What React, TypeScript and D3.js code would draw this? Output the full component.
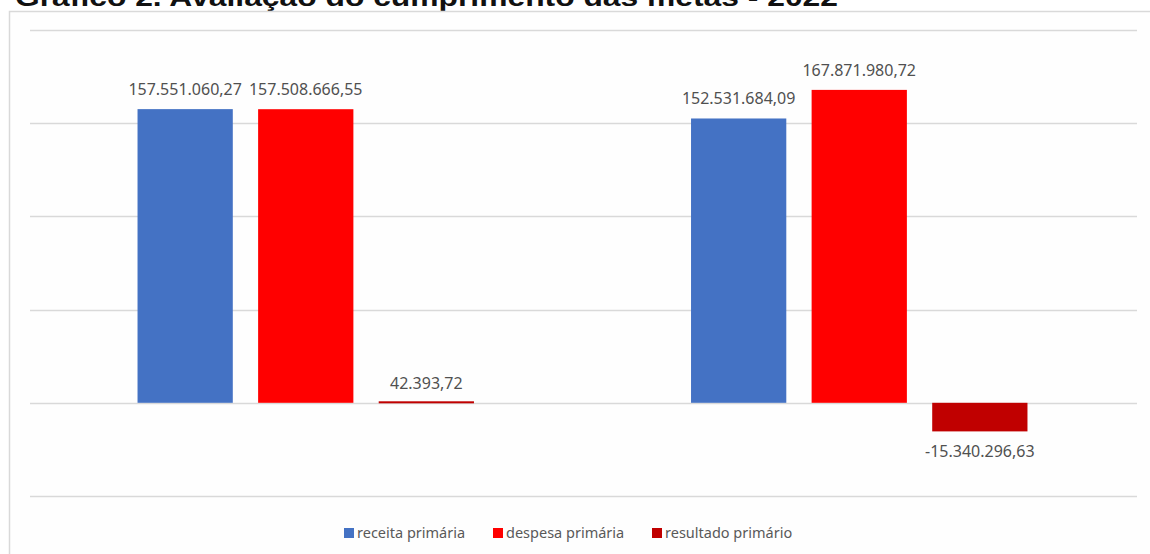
import React from "react";
import * as d3 from "d3";

const categories = ["2022-a", "2022-b"];
const seriesNames = ["receita primária", "despesa primária", "resultado primário"];
const seriesColors = ["#4472C4", "#FF0000", "#C00000"];
const receita = [157551060.27, 152531684.09];
const despesa = [157508666.55, 167871980.72];
const resultado = [42393.72, -15340296.63];
const valueLabels = [
  ["157.551.060,27", "157.508.666,55", "42.393,72"],
  ["152.531.684,09", "167.871.980,72", "-15.340.296,63"],
];
const gridTicks = [-50e6, 0, 50e6, 100e6, 150e6, 200e6];
const title = "Gráfico 2. Avaliação do cumprimento das metas - 2022";

export default function App() {
  const W = 1150, H = 554;
  const left = 30, right = 1137, top = 30, bottom = 496;
  const y = d3.scaleLinear().domain([-50e6, 200e6]).range([bottom, top]);
  const x0 = d3.scaleBand().domain(categories).range([left, right]).paddingInner(0).paddingOuter(0);
  const x1 = d3.scaleBand().domain(seriesNames).range([0, x0.bandwidth()]).paddingInner(0.21).paddingOuter(0.9);
  const series = [receita, despesa, resultado];
  const labelFont = "'Noto Sans', 'Open Sans', sans-serif";

  const legendX = [344, 493, 652];

  return (
    <svg width={W} height={H} style={{ position: "absolute", left: 0, top: 0, background: "#fff" }}>
      <text x={15} y={6} fontFamily="'Liberation Sans', Arial, sans-serif" fontWeight="bold" fontSize={25} fill="#111" textLength={823} lengthAdjust="spacingAndGlyphs">{title}</text>
      <rect x={9.5} y={11.5} width={1200} height={600} fill="#fefefe" stroke="#d9d9d9" strokeWidth={1.5} />
      {gridTicks.map((t) => (
        <line key={t} x1={left} x2={right} y1={Math.round(y(t)) + 0.5} y2={Math.round(y(t)) + 0.5} stroke="#d9d9d9" strokeWidth={1.5} />
      ))}
      {categories.map((c, ci) => (
        <g key={c} transform={`translate(${x0(c)},0)`}>
          {series.map((s, si) => {
            const v = s[ci];
            const bx = x1(seriesNames[si])! - 1;
            const bw = x1.bandwidth();
            let y0 = Math.min(y(0), y(v));
            let h = Math.abs(y(v) - y(0));
            if (h < 2) { h = 2; y0 = y(0) - 1.5; }
            const labelY = v >= 0 ? y(v) - 14 : y(v) + 26;
            return (
              <g key={si}>
                <rect x={bx} y={y0} width={bw} height={h} fill={seriesColors[si]} />
                <text x={bx + bw / 2} y={labelY} textAnchor="middle" fontFamily={labelFont} fontSize={16} fill="#505050">{valueLabels[ci][si]}</text>
              </g>
            );
          })}
        </g>
      ))}
      {seriesNames.map((n, i) => (
        <g key={n} transform={`translate(${legendX[i]},533)`}>
          <rect x={0} y={-5} width={10} height={10} fill={seriesColors[i]} />
          <text x={13} y={5} fontFamily={labelFont} fontSize={14.5} fill="#595959">{n}</text>
        </g>
      ))}
    </svg>
  );
}
